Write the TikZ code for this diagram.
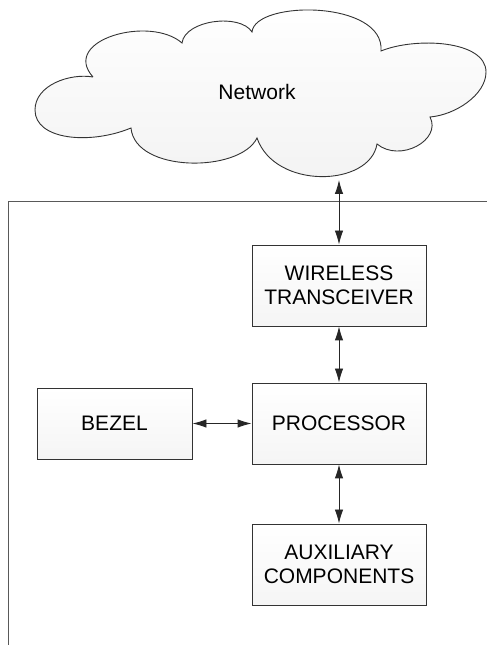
\documentclass[tikz,border=0pt]{standalone}
\usepackage{fontspec}
\setmainfont{Liberation Sans}
\usetikzlibrary{arrows.meta}
\begin{document}
\begin{tikzpicture}[x=1pt,y=1pt,
  blk/.style={draw=black!80, line width=0.9pt, top color=white, bottom color=black!4,
    minimum width=174pt, minimum height=81pt, align=center, inner sep=0pt,
    font=\fontsize{21}{24}\selectfont},
  link/.style={line width=0.9pt, draw=black!85, {Latex[length=14pt,width=8.5pt]}-{Latex[length=14pt,width=8.5pt]}},
  frameline/.style={draw=black!65, line width=1pt}]
\useasboundingbox (0,0) rectangle (487,645);
% cloud
\path[draw=black!80, line width=0.9pt, top color=white, bottom color=black!5]
  (93,568) .. controls (60,605) and (150,630) .. (182,602)
  .. controls (185,625) and (240,632) .. (252,613)
  .. controls (255,645) and (385,645) .. (381,594)
  .. controls (415,608) and (486,605) .. (486,573)
  .. controls (486,550) and (455,530) .. (430,528)
  .. controls (442,505) and (400,482) .. (377,501)
  .. controls (370,458) and (275,455) .. (257,507)
  .. controls (240,472) and (135,472) .. (131,517)
  .. controls (90,500) and (35,505) .. (35,535)
  .. controls (35,560) and (70,572) .. (93,568);
\node (net) at (257,553) {\fontsize{21}{24}\selectfont Network};
\coordinate (cb) at (339,465);
% frame
\draw[frameline] (8,0) -- (8,443) -- (487,443);
% blocks
\node[blk] (wt) at (339,359.5) {WIRELESS\\TRANSCEIVER};
\node[blk] (pr) at (339,221.5) {PROCESSOR};
\node[blk, minimum width=155pt, minimum height=71pt] (bz) at (114.5,221.5) {BEZEL};
\node[blk] (ax) at (339,80.5) {AUXILIARY\\COMPONENTS};
% links
\draw[link] (cb) -- (wt.north);
\draw[link] (wt.south) -- (pr.north);
\draw[link] (pr.south) -- (ax.north);
\draw[link] (bz.east) -- (pr.west);
\end{tikzpicture}
\end{document}
